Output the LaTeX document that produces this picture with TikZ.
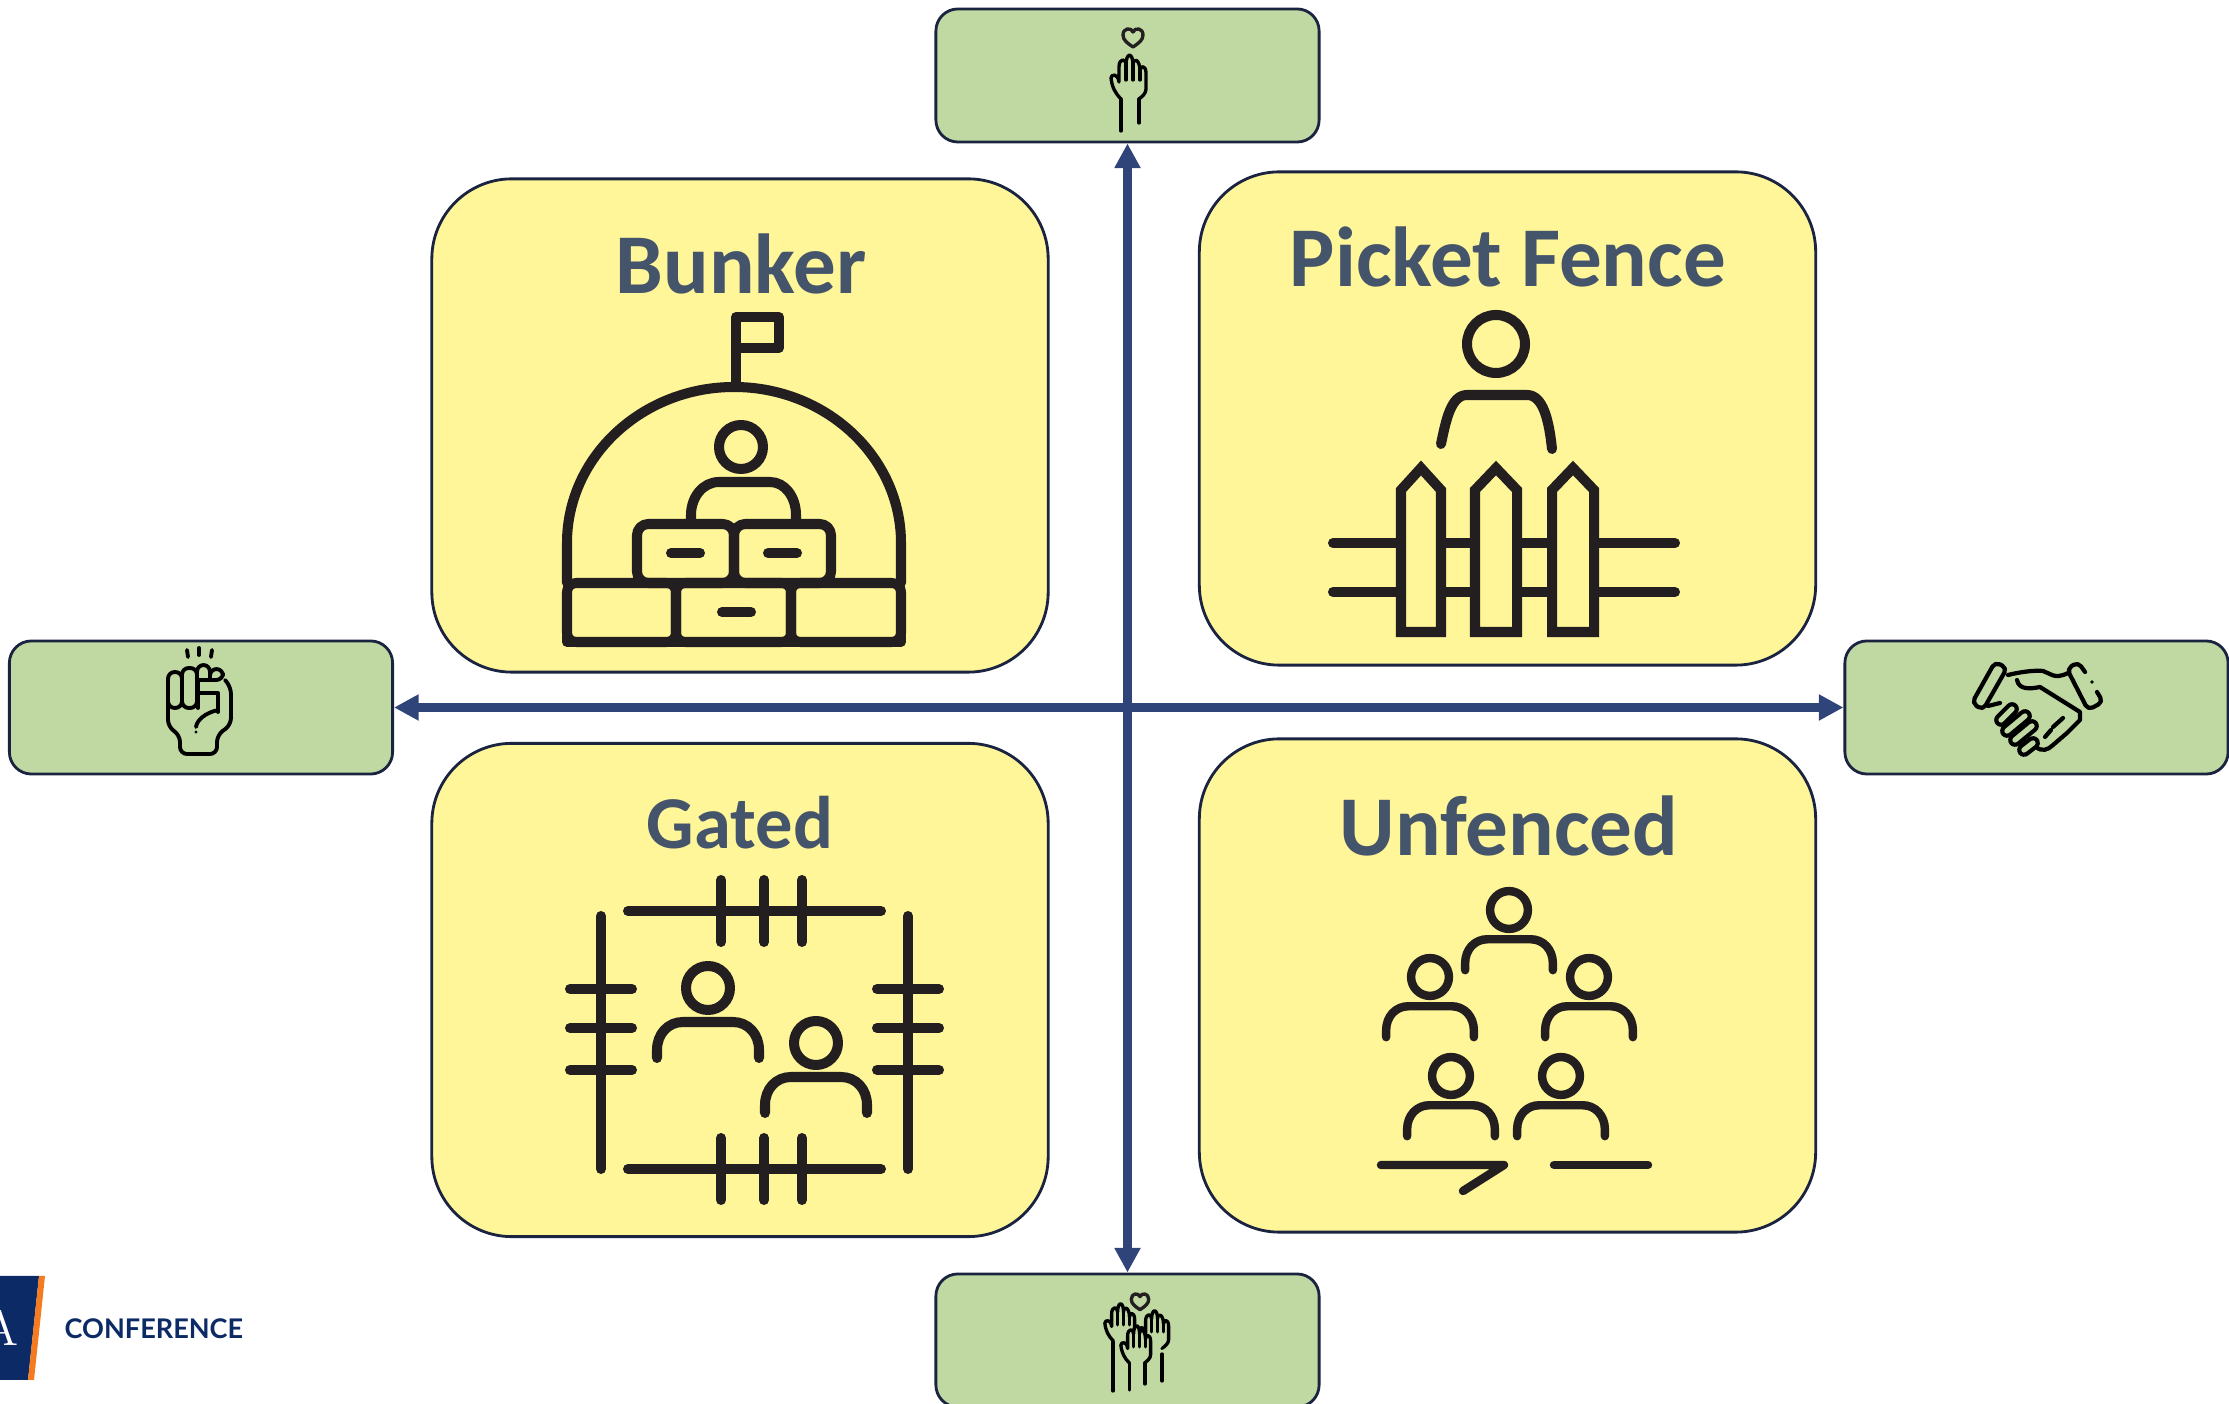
\documentclass[tikz,border=0pt]{standalone}
\usepackage{fontspec}
\usetikzlibrary{arrows.meta}
\newfontfamily\quadfont{Carlito}
\newfontfamily\logofont{Lato}
\definecolor{quadyellow}{HTML}{FFF599}
\definecolor{boxgreen}{HTML}{C0D9A3}
\definecolor{titleblue}{HTML}{44546A}
\definecolor{axisblue}{HTML}{2F4479}
\definecolor{edgedark}{HTML}{1A2340}
\definecolor{icondark}{HTML}{231F20}
\definecolor{logonavy}{HTML}{0B2A66}
\definecolor{logoorange}{HTML}{F47B20}
\tikzset{
    quad/.style={draw=edgedark, line width=.8pt, fill=quadyellow, rounded corners=.8cm, minimum width=6.16cm, minimum height=4.93cm},
    side/.style={draw=edgedark, line width=.8pt, fill=boxgreen, rounded corners=.22cm, minimum width=3.83cm, minimum height=1.33cm},
    title/.style={anchor=base, text=titleblue, font=\quadfont\bfseries\fontsize{24.2}{28}\selectfont},
    axis/.style={<->, >={Triangle[length=7pt,width=7pt]}, draw=axisblue, line width=2.6pt},
    bigicon/.style={draw=icondark, line width=2.85pt, line cap=round, line join=round},
    midicon/.style={draw=icondark, line width=2.4pt, line cap=round, line join=round},
    smallicon/.style={draw=black, line width=.95pt, line cap=round, line join=round},
    person/.pic={
        \draw[pic actions] (0,0) circle (22);
        \draw[pic actions] (-51,70) -- (-51,62) .. controls (-51,46) and (-40,34) .. (-25,34) -- (25,34) .. controls (40,34) and (51,46) .. (51,62) -- (51,70);
    },
    hand/.pic={
        \draw[smallicon, fill=boxgreen] (-9,0) .. controls (-15,-6) and (-18,-12) .. (-19,-21) .. controls (-19,-25) and (-12,-26) .. (-11,-17) -- (-11,-32) .. controls (-11,-41) and (-4,-41) .. (-4,-34) .. controls (-4,-47) and (3,-47) .. (3,-34) .. controls (3,-42) and (10,-40) .. (10,-28) .. controls (10,-34) and (16,-34) .. (16,-26) -- (16,-10) .. controls (16,-6) and (13,-3) .. (9,0);
        \draw[smallicon] (-4,-34) -- (-4,-19);
        \draw[smallicon] (3,-34) -- (3,-19);
        \draw[smallicon] (10,-28) -- (10,-19);
    },
    heart/.pic={
        \draw[smallicon, draw=icondark] (0,10) .. controls (-6,6) and (-10,3) .. (-10,-2) .. controls (-10,-9) and (-2,-10) .. (0,-5) .. controls (2,-10) and (10,-9) .. (10,-2) .. controls (10,3) and (6,6) .. (0,10) -- cycle;
    }
}
\begin{document}
\begin{tikzpicture}[x=.01cm, y=-.01cm]
    \useasboundingbox (0,0) rectangle (2229,1404);

    \node[side] (trust) at (1127.5,75.5) {};
    \node[side] (community) at (1127.5,1340.5) {};
    \node[side] (resist) at (201,707.5) {};
    \node[side] (partner) at (2036.5,707.5) {};
    \draw[axis] (trust) -- (community);
    \draw[axis] (resist) -- (partner);

    \node[quad] (bunker) at (740,425.5) {};
    \node[quad] (picket) at (1507.5,418.5) {};
    \node[quad] (gated) at (740,990) {};
    \node[quad] (unfenced) at (1507.5,985.5) {};

    \node[title] (bunkertitle) at (741,294) {Bunker};
    \node[title] (pickettitle) at (1508,287) {Picket Fence};
    \node[title, font=\quadfont\bfseries\fontsize{21.2}{25}\selectfont] (gatedtitle) at (740,849) {Gated};
    \node[title] (unfencedtitle) at (1509,856) {Unfenced};

    % bunker
    \draw[bigicon] (736,387) -- (736,317) -- (779,317) -- (779,348) -- (736,348);
    \draw[bigicon] (567,583) -- (567,543) .. controls (567,457) and (642,387) .. (734,387) .. controls (826,387) and (901,457) .. (901,543) -- (901,583);
    \draw[bigicon] (741,447) circle (22);
    \draw[bigicon] (691,524) -- (691,515) .. controls (691,497) and (703,482) .. (719,482) -- (770,482) .. controls (785,482) and (796,497) .. (796,515) -- (796,524);
    \draw[bigicon, rounded corners=3.2pt] (637,524) rectangle (734,583);
    \draw[bigicon, rounded corners=3.2pt] (734,524) rectangle (831,583);
    \draw[bigicon, rounded corners=2.6pt] (567,583) rectangle (676,642);
    \draw[bigicon, rounded corners=2.6pt] (676,583) rectangle (791,642);
    \draw[bigicon, rounded corners=2.6pt] (791,583) rectangle (901,642);
    \draw[bigicon] (567,630) -- (567,642) -- (901,642) -- (901,630);
    \draw[bigicon] (722,612) -- (751,612);
    \draw[bigicon] (671,553) -- (700,553);
    \draw[bigicon] (768,553) -- (797,553);

    % picket fence
    \draw[bigicon] (1333,543) -- (1675,543);
    \draw[bigicon] (1333,592) -- (1675,592);
    \foreach \px/\pc in {1401/1421, 1475/1496, 1552/1573} {
        \draw[bigicon, line join=miter, fill=quadyellow] (\px,632) -- (\px,490) -- (\pc,468) -- ({\px+2*(\pc-\px)},490) -- ({\px+2*(\pc-\px)},632) -- cycle;
    }
    \draw[bigicon] (1496,344) circle (29);
    \draw[bigicon] (1441,444) .. controls (1446,420) and (1451,395) .. (1467,395) -- (1527,395) .. controls (1543,395) and (1549,420) .. (1552,449);

    % gated
    \draw[bigicon] (628,911) -- (881,911);
    \draw[bigicon] (628,1169) -- (881,1169);
    \draw[bigicon] (601,916) -- (601,1169);
    \draw[bigicon] (908,916) -- (908,1169);
    \foreach \tx in {721, 764, 802} {
        \draw[bigicon] (\tx,880) -- (\tx,942);
        \draw[bigicon] (\tx,1138) -- (\tx,1200);
    }
    \foreach \ty in {989, 1028, 1070} {
        \draw[bigicon] (570,\ty) -- (632,\ty);
        \draw[bigicon] (877,\ty) -- (939,\ty);
    }
    \pic[bigicon] at (708,988) {person};
    \pic[bigicon] at (816,1043) {person};

    % unfenced
    \foreach \hx/\hy in {1509/910, 1430/977, 1589/977, 1451/1076, 1561/1076} {
        \pic[midicon, scale=.86] at (\hx,\hy) {person};
    }
    \draw[midicon] (1381,1165) -- (1504,1165) -- (1463,1191);
    \draw[midicon] (1554,1165) -- (1648,1165);

    % raised hand
    \pic at (1133,37) {heart};
    \pic at (1130,99) {hand};
    \draw[smallicon] (1121,99) -- (1121,131);
    \draw[smallicon] (1139,99) -- (1139,123);

    % raised hands
    \pic[scale=.87] at (1140,1301) {heart};
    \pic[scale=.85] at (1155,1348) {hand};
    \pic[scale=.85] at (1121,1341) {hand};
    \pic[scale=.85] at (1137,1363) {hand};
    \draw[smallicon] (1113,1342) -- (1113,1391);
    \draw[smallicon] (1129.5,1363) -- (1129.5,1390);
    \draw[smallicon] (1145,1363) -- (1145,1384);
    \draw[smallicon] (1162,1354) -- (1162,1381);
    \fill[black] (1162,1348.5) circle (1.6);

    % fist
    \begin{scope}[smallicon, line width=1.1pt]
        \draw (187,650) -- (188,657);
        \draw (199,648) -- (199,655);
        \draw (212,650) -- (211,657);
        \draw[rounded corners=2pt] (168,690) -- (168,727) -- (180,735) -- (180,754) -- (217,754) -- (217,735) -- (231,725) -- (231,687) -- (225,680);
        \draw[rounded corners=1.9pt] (168,708) rectangle (182,672);
        \draw[rounded corners=1.9pt] (182,708) rectangle (197,668);
        \draw[rounded corners=1.9pt] (197,680) -- (197,665) -- (210,665) -- (210,680);
        \draw[rounded corners=1.9pt] (210,680) -- (210,669) -- (223,669) -- (223,680) -- (198,680);
        \draw (198,680) -- (198,693) -- (218,693) -- (218,712);
        \draw (198,693) -- (198,708);
        \draw (218,710) .. controls (205,713) and (197,720) .. (196,727);
        \fill (196,732) circle (1.6);
    \end{scope}

    % handshake
    \begin{scope}[smallicon, line width=1.2pt]
        \draw[rounded corners=1.5pt] (1995,662) -- (2007,668) -- (1983,710) -- (1972,703) -- cycle;
        \draw[rounded corners=1.5pt] (2085,672) -- (2078,662) -- (2067,669) -- (2088,710) -- (2103,702) -- (2097,692);
        \fill (2092,682) circle (1.8);
        \draw (2008,675) .. controls (2020,672) and (2035,670) .. (2043,671) .. controls (2050,673) and (2054,680) .. (2068,673);
        \draw (2017,680) .. controls (2019,690) and (2030,689) .. (2040,687) -- (2080,712) -- (2080,720) -- (2067,733) -- (2053,745) .. controls (2048,750) and (2042,752) .. (2036,747);
        \draw (2063,718) -- (2053,727);
        \draw (2051,730) -- (2045,737);
        \draw (1988,706) -- (2000,703);
        \foreach \ax/\ay/\bx/\by in {2001/720/2012/709, 2007/731/2025/716, 2015/740/2032/726, 2024/750/2033/743} {
            \draw[line width=1.2pt, double=boxgreen, double distance=1.5pt] (\ax,\ay) -- (\bx,\by);
        }
    \end{scope}

    % logo
    \fill[logonavy] (0,1276) -- (39,1276) -- (28,1380) -- (0,1380) -- cycle;
    \fill[logoorange] (39,1276) -- (45,1276) -- (34,1380) -- (28,1380) -- cycle;
    \node[text=white, font=\fontsize{14}{14}\selectfont, inner sep=0pt] (logoletter) at (1,1328) {A};
    \node[text=logonavy, font=\logofont\bfseries\fontsize{7.7}{10}\selectfont, inner sep=0pt, anchor=west] (conference) at (64,1329) {CONFERENCE};
\end{tikzpicture}
\end{document}
